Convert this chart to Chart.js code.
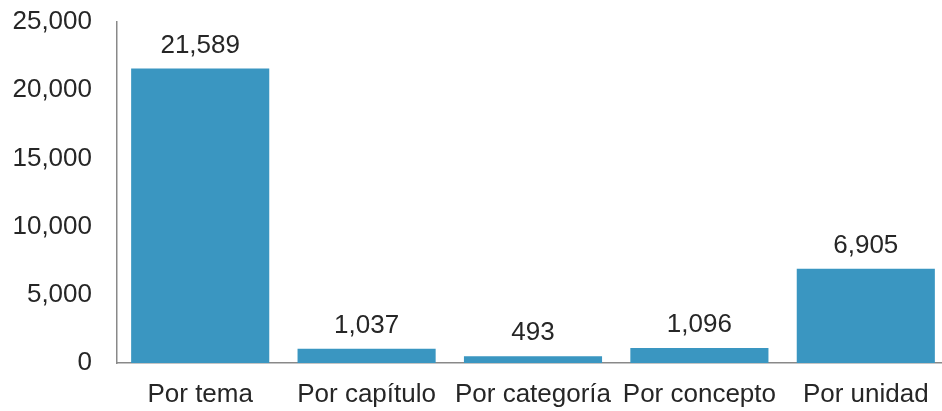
<!DOCTYPE html>
<html>
<head>
<meta charset="utf-8">
<script src="https://cdn.jsdelivr.net/npm/chart.js@4/dist/chart.umd.min.js"></script>
<style>
  html, body { margin: 0; padding: 0; background: #fff; overflow: hidden; }
  #wrap { width: 949px; height: 411px; position: relative; }
</style>
</head>
<body>
<div id="wrap"><canvas id="myChart"></canvas></div>
<script>
// datos del grafico
const categorias = ["Por tema", "Por capítulo", "Por categoría", "Por concepto", "Por unidad"]
const valores = [21589, 1037, 493, 1096, 6905]
const ticksY = [0, 5000, 10000, 15000, 20000, 25000]

const colorBarra = "#3a96c1"
const colorTexto = "#262626"
const fuente = "'Liberation Sans', Arial, sans-serif"
const tamFuente = 26

// etiquetas encima de cada barra
const etiquetasBarra = {
  id: "etiquetasBarra",
  afterDatasetsDraw(chart) {
    const ctx = chart.ctx
    const meta = chart.getDatasetMeta(0)
    ctx.save()
    ctx.font = tamFuente + "px " + fuente
    ctx.fillStyle = colorTexto
    ctx.textAlign = "center"
    ctx.textBaseline = "alphabetic"
    meta.data.forEach((bar, i) => {
      ctx.fillText(valores[i].toLocaleString("en-US"), bar.x, bar.y - 16)
    })
    ctx.restore()
  }
}

const ctx = document.getElementById("myChart").getContext("2d")
new Chart(ctx, {
  type: "bar",
  data: {
    labels: categorias,
    datasets: [{
      data: valores,
      backgroundColor: colorBarra,
      borderWidth: 0,
      barPercentage: 0.83,
      categoryPercentage: 1
    }]
  },
  options: {
    responsive: true,
    maintainAspectRatio: false,
    animation: false,
    layout: { padding: 0 },
    plugins: { legend: { display: false }, tooltip: { enabled: false } },
    scales: {
      x: {
        grid: { display: false, drawTicks: false },
        border: { display: true, color: "#898989", width: 1.5 },
        ticks: {
          color: colorTexto,
          font: { family: fuente, size: tamFuente },
          padding: 16,
          maxRotation: 0,
          autoSkip: false
        },
        afterFit(scale) { scale.height = 48 }
      },
      y: {
        min: 0,
        max: 25000,
        grid: { display: false, drawTicks: false },
        border: { display: true, color: "#898989", width: 1.5 },
        afterBuildTicks(scale) { scale.ticks = ticksY.map(v => ({ value: v })) },
        ticks: {
          color: colorTexto,
          font: { family: fuente, size: tamFuente },
          padding: 25,
          callback: v => v.toLocaleString("en-US")
        },
        afterFit(scale) {
          scale.width = 117
          scale.paddingTop = 22
          scale.paddingBottom = 0
        }
      }
    }
  },
  plugins: [etiquetasBarra]
})
</script>
</body>
</html>
